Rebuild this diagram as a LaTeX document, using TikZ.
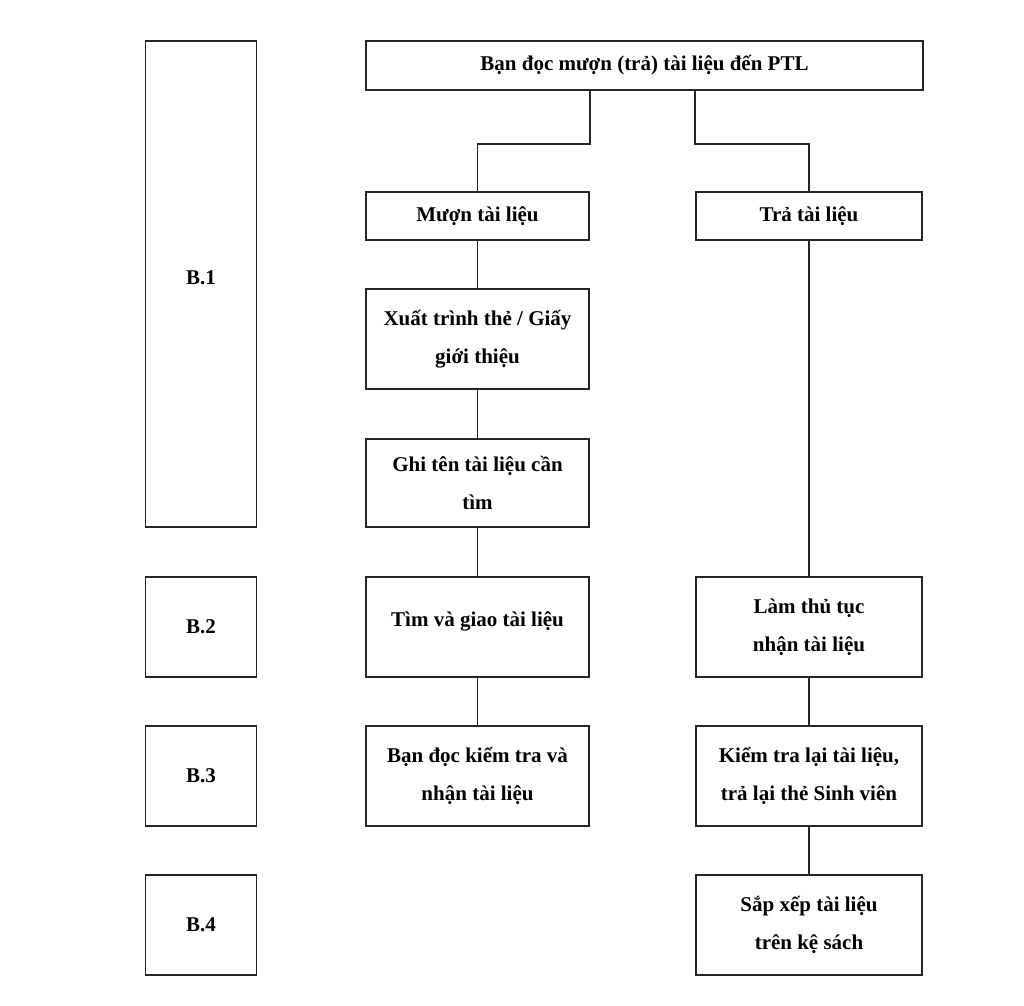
\documentclass[tikz,border=0pt]{standalone}
\usepackage{fontspec}
\setmainfont{Liberation Serif}
\usetikzlibrary{positioning,calc}

\begin{document}
\begin{tikzpicture}[
                x=0.5pt, y=-0.5pt,
                line width=0.8pt,
                every node/.style={font=\bfseries\fontsize{10.5}{19}\selectfont, align=center},
                stepbox/.style={draw=black!85, inner sep=0pt, minimum width=#1},
                stepbox/.default=111.5pt,
                lbox/.style={stepbox=55.5pt},
                link/.style={draw=black!85}
            ]
                \useasboundingbox (0,0) rectangle (1024,1006);

                % stage labels on the left
                \node[lbox, minimum height=243pt] (B1) at (201,284) {};
                \node (B1t) at (201,278) {B.1};
                \node[lbox, minimum height=50pt] (B2) at (201,627) {B.2};
                \node[lbox, minimum height=50pt] (B3) at (201,776) {B.3};
                \node[lbox, minimum height=50pt] (B4) at (201,925) {B.4};

                % process boxes
                \node[stepbox=278.5pt, minimum height=24.5pt] (top) at (644.5,65.5) {Bạn đọc mượn (trả) tài liệu đến PTL};
                \node[stepbox, minimum height=24pt] (borrow) at (477.5,216) {Mượn tài liệu};
                \node[stepbox=113pt, minimum height=24pt] (ret) at (809,216) {Trả tài liệu};
                \node[stepbox, minimum height=50pt] (show) at (477.5,339) {Xuất trình thẻ / Giấy\\giới thiệu};
                \node[stepbox, minimum height=44pt] (note) at (477.5,483) {Ghi tên tài liệu cần\\tìm};
                \node[stepbox, minimum height=50pt] (find) at (477.5,627) {};
                \node (findt) at (477.5,621) {Tìm và giao tài liệu};
                \node[stepbox, minimum height=50pt] (check) at (477.5,776) {Bạn đọc kiểm tra và\\nhận tài liệu};
                \node[stepbox=113pt, minimum height=50pt] (proc) at (809,627) {Làm thủ tục\\nhận tài liệu};
                \node[stepbox=113pt, minimum height=50pt] (recheck) at (809,776) {Kiểm tra lại tài liệu,\\trả lại thẻ Sinh viên};
                \node[stepbox=113pt, minimum height=50pt] (arrange) at (809,925) {Sắp xếp tài liệu\\trên kệ sách};

                % connectors
                \draw[link] (top.south -| borrow.east) -- ++(0,53) -| (borrow.north);
                \draw[link] (top.south -| ret.west) -- ++(0,53) -| (ret.north);
                \draw[link] (borrow) -- (show);
                \draw[link] (show) -- (note);
                \draw[link] (note) -- (find);
                \draw[link] (find) -- (check);
                \draw[link] (ret) -- (proc);
                \draw[link] (proc) -- (recheck);
                \draw[link] (recheck) -- (arrange);
            \end{tikzpicture}
\end{document}
